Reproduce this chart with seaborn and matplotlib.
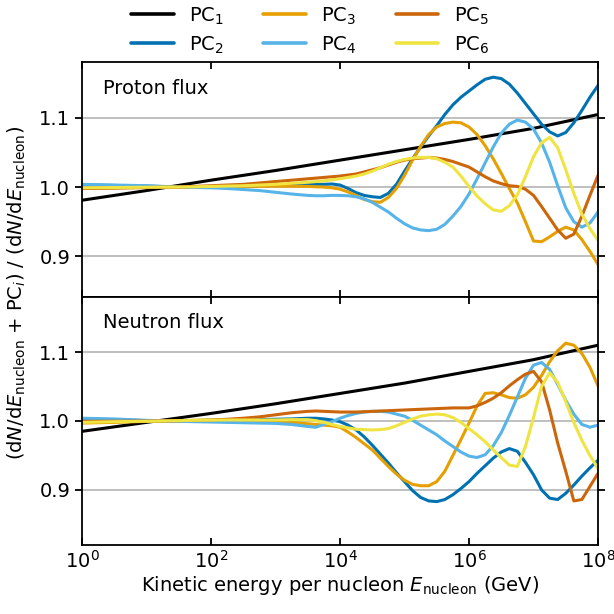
import matplotlib
matplotlib.use("Agg")
import matplotlib.pyplot as plt
from matplotlib.ticker import FixedLocator
import pandas as pd
import seaborn as sns

# log10 of the kinetic energy per nucleon in GeV:
# quarter-decade steps up to 10^3.25, eighth-decade steps from 10^3.5 on
log_e = [i / 4 for i in range(14)] + [3.5 + i / 8 for i in range(37)]
log_e_pc1 = [0, 1, 2, 3, 4, 5, 6, 7, 8]

components = ["PC1", "PC2", "PC3", "PC4", "PC5", "PC6"]
legend_labels = ["PC$_1$", "PC$_2$", "PC$_3$", "PC$_4$", "PC$_5$", "PC$_6$"]
colors = ["#000000", "#0072B2", "#E69F00", "#56B4E9", "#CC660A", "#F0E442"]

# ---- proton flux: (dN/dE + PC_i) / (dN/dE)
proton_pc1 = [0.981, 0.995, 1.010, 1.024, 1.039, 1.054, 1.069, 1.085, 1.105]
proton_pc2 = [1.003, 1.0028, 1.0024, 1.002, 1.0015, 1.0008, 1.000, 1.0002, 1.0005,
              1.001, 1.0015, 1.002, 1.003, 1.004,
              1.004, 1.004, 1.004, 1.0045, 1.003, 0.998, 0.992, 0.988, 0.986, 0.985,
              0.991, 1.004, 1.023, 1.041, 1.058, 1.074, 1.089, 1.105, 1.119, 1.130,
              1.139, 1.148, 1.156, 1.159, 1.157, 1.149, 1.136, 1.121, 1.106, 1.091,
              1.080, 1.074, 1.079, 1.093, 1.111, 1.130, 1.147]
proton_pc3 = [0.998, 0.9983, 0.9986, 0.999, 0.9993, 0.9997, 1.000, 1.0003, 1.0006,
              1.001, 1.001, 1.0012, 1.0013, 1.0013,
              1.001, 1.0005, 1.000, 0.999, 0.997, 0.993, 0.988, 0.982, 0.979, 0.978,
              0.985, 0.998, 1.017, 1.039, 1.059, 1.076, 1.087, 1.092, 1.094, 1.093,
              1.087, 1.076, 1.060, 1.041, 1.020, 0.998, 0.977, 0.950, 0.922, 0.921,
              0.928, 0.936, 0.942, 0.938, 0.924, 0.907, 0.888]
proton_pc4 = [1.004, 1.0035, 1.003, 1.0025, 1.002, 1.001, 1.000, 0.9995, 0.999,
              0.998, 0.9965, 0.995, 0.9925, 0.990,
              0.988, 0.9875, 0.9875, 0.988, 0.988, 0.9875, 0.986, 0.983, 0.978, 0.971,
              0.964, 0.955, 0.947, 0.941, 0.938, 0.937, 0.939, 0.946, 0.958, 0.972,
              0.990, 1.012, 1.035, 1.058, 1.078, 1.091, 1.097, 1.094, 1.084, 1.064,
              1.036, 1.002, 0.970, 0.950, 0.942, 0.948, 0.964]
proton_pc5 = [0.998, 0.9984, 0.9988, 0.9992, 0.9995, 0.9998, 1.000, 1.001, 1.002,
              1.003, 1.004, 1.006, 1.008, 1.010,
              1.012, 1.013, 1.014, 1.015, 1.016, 1.0175, 1.019, 1.022, 1.025, 1.028,
              1.032, 1.036, 1.039, 1.041, 1.042, 1.043, 1.042, 1.040, 1.037, 1.033,
              1.029, 1.022, 1.015, 1.009, 1.005, 1.002, 1.001, 0.997, 0.988, 0.972,
              0.955, 0.938, 0.926, 0.932, 0.958, 0.988, 1.017]
proton_pc6 = [0.999, 0.9992, 0.9994, 0.9996, 0.9998, 1.000, 1.000, 1.0005, 1.001,
              1.0015, 1.002, 1.003, 1.004, 1.0055,
              1.007, 1.008, 1.009, 1.0105, 1.012, 1.014, 1.016, 1.019, 1.023, 1.028,
              1.033, 1.037, 1.040, 1.042, 1.043, 1.043, 1.041, 1.036, 1.029, 1.016,
              1.001, 0.987, 0.976, 0.967, 0.965, 0.973, 0.989, 1.015, 1.044, 1.064,
              1.072, 1.057, 1.025, 0.991, 0.961, 0.940, 0.923]

# ---- neutron flux
neutron_pc1 = [0.985, 0.998, 1.011, 1.025, 1.040, 1.055, 1.072, 1.089, 1.110]
neutron_pc2 = [1.003, 1.0025, 1.002, 1.0012, 1.0005, 1.000, 1.0002, 1.0005, 1.001,
               1.0012, 1.0015, 1.002, 1.0025, 1.003,
               1.004, 1.004, 1.003, 1.0015, 0.999, 0.994, 0.987, 0.977, 0.965, 0.952,
               0.939, 0.925, 0.912, 0.899, 0.889, 0.884, 0.883, 0.886, 0.893, 0.902,
               0.912, 0.924, 0.935, 0.946, 0.955, 0.960, 0.956, 0.940, 0.922, 0.900,
               0.888, 0.886, 0.895, 0.907, 0.920, 0.932, 0.943]
neutron_pc3 = [0.997, 0.9975, 0.998, 0.9987, 0.9995, 1.000, 1.0002, 1.0004, 1.0005,
               1.0005, 1.0005, 1.000, 0.9995, 0.998,
               0.996, 0.995, 0.994, 0.993, 0.991, 0.984, 0.976, 0.967, 0.958, 0.946,
               0.934, 0.923, 0.914, 0.908, 0.906, 0.906, 0.912, 0.927, 0.950, 0.973,
               0.997, 1.022, 1.040, 1.041, 1.038, 1.034, 1.033, 1.038, 1.049, 1.066,
               1.086, 1.102, 1.113, 1.110, 1.098, 1.078, 1.051]
neutron_pc4 = [1.004, 1.0035, 1.003, 1.002, 1.001, 1.000, 0.9995, 0.999, 0.9985,
               0.998, 0.9975, 0.997, 0.9965, 0.995,
               0.992, 0.991, 0.995, 0.999, 1.004, 1.008, 1.011, 1.013, 1.014, 1.014,
               1.013, 1.010, 1.007, 1.001, 0.994, 0.987, 0.980, 0.971, 0.963, 0.955,
               0.949, 0.947, 0.951, 0.964, 0.983, 1.008, 1.035, 1.062, 1.081, 1.085,
               1.075, 1.053, 1.030, 1.010, 0.995, 0.991, 0.994]
neutron_pc5 = [0.9995, 0.9996, 0.9997, 0.9998, 0.9999, 1.000, 1.0005, 1.001, 1.0015,
               1.0025, 1.004, 1.006, 1.009, 1.012,
               1.014, 1.0145, 1.014, 1.0135, 1.013, 1.013, 1.013, 1.0135, 1.014, 1.0145,
               1.015, 1.0155, 1.016, 1.0165, 1.017, 1.0175, 1.018, 1.0185, 1.019, 1.019,
               1.019, 1.022, 1.027, 1.033, 1.041, 1.051, 1.060, 1.068, 1.072, 1.057,
               1.016, 0.968, 0.927, 0.884, 0.886, 0.905, 0.924]
neutron_pc6 = [0.998, 0.9985, 0.999, 0.9993, 0.9996, 1.000, 1.0005, 1.001, 1.0012,
               1.0015, 1.0015, 1.0015, 1.0015, 1.002,
               1.002, 1.0005, 0.998, 0.995, 0.992, 0.990, 0.988, 0.9875, 0.987, 0.9875,
               0.989, 0.993, 0.998, 1.003, 1.007, 1.009, 1.010, 1.009, 1.005, 0.998,
               0.989, 0.980, 0.970, 0.958, 0.947, 0.936, 0.934, 0.963, 1.005, 1.050,
               1.070, 1.056, 1.028, 0.998, 0.972, 0.950, 0.931]

panels = {
    "Proton flux": [proton_pc1, proton_pc2, proton_pc3, proton_pc4, proton_pc5, proton_pc6],
    "Neutron flux": [neutron_pc1, neutron_pc2, neutron_pc3, neutron_pc4, neutron_pc5, neutron_pc6],
}

rows = []
for panel, series in panels.items():
    for comp, values in zip(components, series):
        grid = log_e_pc1 if comp == "PC1" else log_e
        assert len(grid) == len(values), (panel, comp, len(values))
        for le, v in zip(grid, values):
            rows.append({"panel": panel, "component": comp,
                         "energy": 10.0 ** le, "ratio": v})
df = pd.DataFrame(rows)

sns.set_style("white")
plt.rcParams["font.family"] = ["DejaVu Sans"]
plt.rcParams["mathtext.fontset"] = "dejavusans"
for key in ("text.color", "axes.labelcolor", "xtick.color", "ytick.color"):
    plt.rcParams[key] = "black"
FS = 14

fig = plt.figure(figsize=(6.14, 6.14), dpi=100)
gs = fig.add_gridspec(2, 1, left=82 / 614, right=598 / 614,
                      top=1 - 62 / 614, bottom=1 - 545 / 614, hspace=0,
                      height_ratios=[235, 248])
axes = [fig.add_subplot(gs[0])]
axes.append(fig.add_subplot(gs[1], sharex=axes[0]))
ylims = [(0.841, 1.181), (0.820, 1.180)]
label_y = [1 - 26 / 235, 1 - 26 / 248]

palette = dict(zip(components, colors))
for ax, panel, ylim, ly in zip(axes, panels, ylims, label_y):
    sub = df[df["panel"] == panel]
    sns.lineplot(data=sub, x="energy", y="ratio", hue="component",
                 hue_order=components, palette=palette, lw=2.2,
                 estimator=None, sort=True, legend=False, ax=ax)
    ax.set_xscale("log")
    ax.set_xlim(1, 1e8)
    ax.set_ylim(*ylim)
    ax.yaxis.set_major_locator(FixedLocator([0.9, 1.0, 1.1]))
    ax.xaxis.set_major_locator(FixedLocator([1e0, 1e2, 1e4, 1e6, 1e8]))
    ax.xaxis.set_minor_locator(FixedLocator([]))
    ax.grid(axis="y", color="#b4b4b4", lw=1.2)
    ax.set_axisbelow(True)
    ax.set_ylabel("")
    ax.set_xlabel("")
    for s in ax.spines.values():
        s.set_color("black")
        s.set_linewidth(1.3)
    ax.tick_params(axis="x", direction="in", top=True, bottom=True,
                   length=5, width=1.3, labelsize=FS)
    ax.tick_params(axis="y", direction="out", left=True, right=True,
                   length=5, width=1.3, labelsize=FS)
    ax.text(21 / 516, ly, panel, transform=ax.transAxes, fontsize=FS,
            va="center", ha="left")

axes[0].tick_params(axis="x", labelbottom=False)
axes[1].set_xlabel("Kinetic energy per nucleon $E_\\mathrm{nucleon}$ (GeV)",
                   fontsize=FS)
axes[1].xaxis.set_label_coords(0.5, -0.115)

fig.text(0.028, 1 - 293 / 614,
         "(d$N$/d$E_\\mathrm{nucleon}$ + PC$_i$) / (d$N$/d$E_\\mathrm{nucleon}$)",
         rotation=90, va="center", ha="center", fontsize=FS)

handles = [plt.Line2D([], [], color=c, lw=2.6) for c in colors]
fig.legend(handles, legend_labels, ncol=3, loc="upper center",
           bbox_to_anchor=(0.505, 1.02), frameon=False, fontsize=FS,
           handlelength=2.2, handletextpad=0.8, columnspacing=2.0,
           labelspacing=0.4)

fig.savefig("out.png", dpi=100)
